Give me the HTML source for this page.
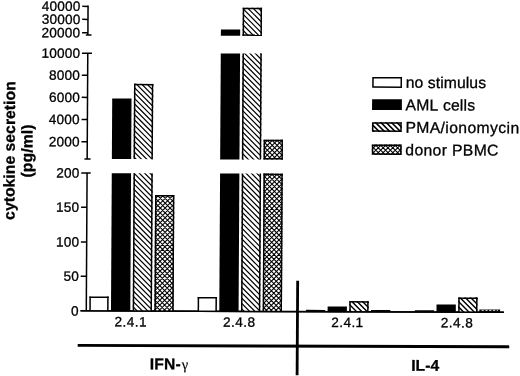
<!DOCTYPE html>
<html><head><meta charset="utf-8"><title>cytokine secretion</title>
<style>
html,body{margin:0;padding:0;background:#fff;}
svg{display:block;}
text{font-family:"Liberation Sans",sans-serif;fill:#000;font-kerning:none;stroke:#000;stroke-width:0.3px;}
</style></head>
<body>
<svg width="520" height="376" viewBox="0 0 520 376">
<defs><clipPath id="c1"><rect x="133.40" y="173.60" width="19.30" height="137.80"/></clipPath><clipPath id="c2"><rect x="133.40" y="84.20" width="19.30" height="75.30"/></clipPath><clipPath id="c3"><rect x="155.10" y="195.20" width="19.30" height="116.20"/></clipPath><clipPath id="c4"><rect x="241.70" y="173.60" width="19.30" height="137.80"/></clipPath><clipPath id="c5"><rect x="241.70" y="53.50" width="19.30" height="106.00"/></clipPath><clipPath id="c6"><rect x="241.70" y="7.70" width="19.30" height="28.20"/></clipPath><clipPath id="c7"><rect x="263.40" y="173.60" width="19.30" height="137.80"/></clipPath><clipPath id="c8"><rect x="263.40" y="139.80" width="19.30" height="19.70"/></clipPath><clipPath id="c9"><rect x="350.00" y="300.80" width="19.30" height="10.60"/></clipPath><clipPath id="c10"><rect x="458.90" y="296.90" width="19.30" height="14.50"/></clipPath><clipPath id="c11"><rect x="371.60" y="121.80" width="29.80" height="9.70"/></clipPath><clipPath id="c12"><rect x="371.60" y="144.20" width="29.80" height="10.30"/></clipPath></defs>
<rect width="520" height="376" fill="#fff"/>
<g transform="matrix(1 0.003 -0.0058 1 1.0904 -0.7800)">
<line x1="87.00" y1="5.90" x2="87.00" y2="35.60" stroke="#000" stroke-width="1.5" stroke-linecap="butt"/>
<line x1="81.20" y1="6.90" x2="87.00" y2="6.90" stroke="#000" stroke-width="1.5" stroke-linecap="butt"/>
<line x1="81.20" y1="19.90" x2="87.00" y2="19.90" stroke="#000" stroke-width="1.5" stroke-linecap="butt"/>
<line x1="81.20" y1="33.20" x2="87.00" y2="33.20" stroke="#000" stroke-width="1.5" stroke-linecap="butt"/>
<line x1="85.00" y1="35.60" x2="90.60" y2="35.60" stroke="#000" stroke-width="1.5" stroke-linecap="butt"/>
<line x1="87.00" y1="53.70" x2="87.00" y2="159.60" stroke="#000" stroke-width="1.5" stroke-linecap="butt"/>
<line x1="81.20" y1="75.80" x2="87.00" y2="75.80" stroke="#000" stroke-width="1.5" stroke-linecap="butt"/>
<line x1="81.20" y1="97.90" x2="87.00" y2="97.90" stroke="#000" stroke-width="1.5" stroke-linecap="butt"/>
<line x1="81.20" y1="120.10" x2="87.00" y2="120.10" stroke="#000" stroke-width="1.5" stroke-linecap="butt"/>
<line x1="81.20" y1="142.30" x2="87.00" y2="142.30" stroke="#000" stroke-width="1.5" stroke-linecap="butt"/>
<line x1="81.20" y1="53.70" x2="91.20" y2="53.70" stroke="#000" stroke-width="1.5" stroke-linecap="butt"/>
<line x1="84.30" y1="159.60" x2="90.40" y2="159.60" stroke="#000" stroke-width="1.5" stroke-linecap="butt"/>
<line x1="87.00" y1="173.60" x2="87.00" y2="311.40" stroke="#000" stroke-width="1.5" stroke-linecap="butt"/>
<line x1="81.20" y1="207.80" x2="87.00" y2="207.80" stroke="#000" stroke-width="1.5" stroke-linecap="butt"/>
<line x1="81.20" y1="242.50" x2="87.00" y2="242.50" stroke="#000" stroke-width="1.5" stroke-linecap="butt"/>
<line x1="81.20" y1="276.80" x2="87.00" y2="276.80" stroke="#000" stroke-width="1.5" stroke-linecap="butt"/>
<line x1="81.20" y1="173.60" x2="90.60" y2="173.60" stroke="#000" stroke-width="1.5" stroke-linecap="butt"/>
<line x1="81.20" y1="311.40" x2="504.60" y2="311.40" stroke="#000" stroke-width="1.5" stroke-linecap="butt"/>
<line x1="78.60" y1="345.95" x2="510.20" y2="345.95" stroke="#000" stroke-width="2.9" stroke-linecap="butt"/>
<line x1="298.20" y1="280.60" x2="298.20" y2="375.20" stroke="#000" stroke-width="2.8" stroke-linecap="butt"/>
<text x="79.5" y="11.40" text-anchor="end" font-size="13.6" letter-spacing="0.2">40000</text>
<text x="79.5" y="24.50" text-anchor="end" font-size="13.6" letter-spacing="0.2">30000</text>
<text x="79.5" y="37.80" text-anchor="end" font-size="13.6" letter-spacing="0.2">20000</text>
<text x="79.5" y="58.30" text-anchor="end" font-size="13.6" letter-spacing="0.2">10000</text>
<text x="79.5" y="80.40" text-anchor="end" font-size="13.6" letter-spacing="0.2">8000</text>
<text x="79.5" y="102.50" text-anchor="end" font-size="13.6" letter-spacing="0.2">6000</text>
<text x="79.5" y="124.70" text-anchor="end" font-size="13.6" letter-spacing="0.2">4000</text>
<text x="79.5" y="146.90" text-anchor="end" font-size="13.6" letter-spacing="0.2">2000</text>
<text x="79.5" y="178.20" text-anchor="end" font-size="13.6" letter-spacing="0.2">200</text>
<text x="79.5" y="212.40" text-anchor="end" font-size="13.6" letter-spacing="0.2">150</text>
<text x="79.5" y="247.10" text-anchor="end" font-size="13.6" letter-spacing="0.2">100</text>
<text x="79.5" y="281.40" text-anchor="end" font-size="13.6" letter-spacing="0.2">50</text>
<text x="79.5" y="316.00" text-anchor="end" font-size="13.6" letter-spacing="0.2">0</text>
<text x="131.6" y="326.8" text-anchor="middle" font-size="13.6" letter-spacing="0.45">2.4.1</text>
<text x="240.1" y="326.8" text-anchor="middle" font-size="13.6" letter-spacing="0.45">2.4.8</text>
<text x="348.2" y="326.8" text-anchor="middle" font-size="13.6" letter-spacing="0.45">2.4.1</text>
<text x="457.8" y="326.8" text-anchor="middle" font-size="13.6" letter-spacing="0.45">2.4.8</text>
<text x="150.7" y="369.5" font-size="15.6" font-weight="bold" letter-spacing="0.25">IFN-<tspan dx="0.9" font-family="'Liberation Serif', serif" font-weight="normal" font-size="14.5" stroke-width="0.15">γ</tspan></text>
<text x="412.2" y="370.2" font-size="15.6" font-weight="bold" letter-spacing="0.1">IL-4</text>
<text transform="translate(14.6 151.3) rotate(-90)" text-anchor="middle" font-size="15.7" font-weight="bold" letter-spacing="0.05">cytokine secretion</text>
<text transform="translate(32.2 151.7) rotate(-90)" text-anchor="middle" font-size="15.7" font-weight="bold" letter-spacing="0.12">(pg/ml)</text>
<rect x="90.00" y="296.90" width="19.3" height="14.50" fill="#fff"/>
<line x1="90.75" y1="296.90" x2="90.75" y2="311.40" stroke="#000" stroke-width="1.5" stroke-linecap="butt"/>
<line x1="108.55" y1="296.90" x2="108.55" y2="311.40" stroke="#000" stroke-width="1.5" stroke-linecap="butt"/>
<line x1="90.00" y1="297.65" x2="109.30" y2="297.65" stroke="#000" stroke-width="1.5" stroke-linecap="butt"/>
<rect x="111.70" y="173.60" width="19.3" height="137.80" fill="#000"/>
<rect x="111.70" y="98.90" width="19.3" height="60.60" fill="#000"/>
<rect x="133.40" y="173.60" width="19.30" height="137.80" fill="#fff"/>
<path clip-path="url(#c1)" d="M132.40,145.35l21.30,21.30M132.40,150.70l21.30,21.30M132.40,156.05l21.30,21.30M132.40,161.40l21.30,21.30M132.40,166.75l21.30,21.30M132.40,172.10l21.30,21.30M132.40,177.45l21.30,21.30M132.40,182.80l21.30,21.30M132.40,188.15l21.30,21.30M132.40,193.50l21.30,21.30M132.40,198.85l21.30,21.30M132.40,204.20l21.30,21.30M132.40,209.55l21.30,21.30M132.40,214.90l21.30,21.30M132.40,220.25l21.30,21.30M132.40,225.60l21.30,21.30M132.40,230.95l21.30,21.30M132.40,236.30l21.30,21.30M132.40,241.65l21.30,21.30M132.40,247.00l21.30,21.30M132.40,252.35l21.30,21.30M132.40,257.70l21.30,21.30M132.40,263.05l21.30,21.30M132.40,268.40l21.30,21.30M132.40,273.75l21.30,21.30M132.40,279.10l21.30,21.30M132.40,284.45l21.30,21.30M132.40,289.80l21.30,21.30M132.40,295.15l21.30,21.30M132.40,300.50l21.30,21.30M132.40,305.85l21.30,21.30M132.40,311.20l21.30,21.30M132.40,316.55l21.30,21.30" stroke="#000" stroke-width="1.2" fill="none"/>
<line x1="134.15" y1="173.60" x2="134.15" y2="311.40" stroke="#000" stroke-width="1.5" stroke-linecap="butt"/>
<line x1="151.95" y1="173.60" x2="151.95" y2="311.40" stroke="#000" stroke-width="1.5" stroke-linecap="butt"/>
<rect x="133.40" y="84.20" width="19.30" height="75.30" fill="#fff"/>
<path clip-path="url(#c2)" d="M132.40,54.40l21.30,21.30M132.40,59.75l21.30,21.30M132.40,65.10l21.30,21.30M132.40,70.45l21.30,21.30M132.40,75.80l21.30,21.30M132.40,81.15l21.30,21.30M132.40,86.50l21.30,21.30M132.40,91.85l21.30,21.30M132.40,97.20l21.30,21.30M132.40,102.55l21.30,21.30M132.40,107.90l21.30,21.30M132.40,113.25l21.30,21.30M132.40,118.60l21.30,21.30M132.40,123.95l21.30,21.30M132.40,129.30l21.30,21.30M132.40,134.65l21.30,21.30M132.40,140.00l21.30,21.30M132.40,145.35l21.30,21.30M132.40,150.70l21.30,21.30M132.40,156.05l21.30,21.30M132.40,161.40l21.30,21.30M132.40,166.75l21.30,21.30" stroke="#000" stroke-width="1.2" fill="none"/>
<line x1="134.15" y1="84.20" x2="134.15" y2="159.50" stroke="#000" stroke-width="1.5" stroke-linecap="butt"/>
<line x1="151.95" y1="84.20" x2="151.95" y2="159.50" stroke="#000" stroke-width="1.5" stroke-linecap="butt"/>
<line x1="133.40" y1="84.95" x2="152.70" y2="84.95" stroke="#000" stroke-width="1.5" stroke-linecap="butt"/>
<rect x="155.10" y="195.20" width="19.30" height="116.20" fill="#fff"/>
<path clip-path="url(#c3)" d="M154.10,168.05l21.30,21.30M154.10,172.90l21.30,21.30M154.10,177.75l21.30,21.30M154.10,182.60l21.30,21.30M154.10,187.45l21.30,21.30M154.10,192.30l21.30,21.30M154.10,197.15l21.30,21.30M154.10,202.00l21.30,21.30M154.10,206.85l21.30,21.30M154.10,211.70l21.30,21.30M154.10,216.55l21.30,21.30M154.10,221.40l21.30,21.30M154.10,226.25l21.30,21.30M154.10,231.10l21.30,21.30M154.10,235.95l21.30,21.30M154.10,240.80l21.30,21.30M154.10,245.65l21.30,21.30M154.10,250.50l21.30,21.30M154.10,255.35l21.30,21.30M154.10,260.20l21.30,21.30M154.10,265.05l21.30,21.30M154.10,269.90l21.30,21.30M154.10,274.75l21.30,21.30M154.10,279.60l21.30,21.30M154.10,284.45l21.30,21.30M154.10,289.30l21.30,21.30M154.10,294.15l21.30,21.30M154.10,299.00l21.30,21.30M154.10,303.85l21.30,21.30M154.10,308.70l21.30,21.30M154.10,313.55l21.30,21.30M154.10,318.40l21.30,21.30M154.10,190.40l21.30,-21.30M154.10,195.25l21.30,-21.30M154.10,200.10l21.30,-21.30M154.10,204.95l21.30,-21.30M154.10,209.80l21.30,-21.30M154.10,214.65l21.30,-21.30M154.10,219.50l21.30,-21.30M154.10,224.35l21.30,-21.30M154.10,229.20l21.30,-21.30M154.10,234.05l21.30,-21.30M154.10,238.90l21.30,-21.30M154.10,243.75l21.30,-21.30M154.10,248.60l21.30,-21.30M154.10,253.45l21.30,-21.30M154.10,258.30l21.30,-21.30M154.10,263.15l21.30,-21.30M154.10,268.00l21.30,-21.30M154.10,272.85l21.30,-21.30M154.10,277.70l21.30,-21.30M154.10,282.55l21.30,-21.30M154.10,287.40l21.30,-21.30M154.10,292.25l21.30,-21.30M154.10,297.10l21.30,-21.30M154.10,301.95l21.30,-21.30M154.10,306.80l21.30,-21.30M154.10,311.65l21.30,-21.30M154.10,316.50l21.30,-21.30M154.10,321.35l21.30,-21.30M154.10,326.20l21.30,-21.30M154.10,331.05l21.30,-21.30M154.10,335.90l21.30,-21.30M154.10,340.75l21.30,-21.30" stroke="#000" stroke-width="1.08" fill="none"/>
<line x1="155.85" y1="195.20" x2="155.85" y2="311.40" stroke="#000" stroke-width="1.5" stroke-linecap="butt"/>
<line x1="173.65" y1="195.20" x2="173.65" y2="311.40" stroke="#000" stroke-width="1.5" stroke-linecap="butt"/>
<line x1="155.10" y1="195.95" x2="174.40" y2="195.95" stroke="#000" stroke-width="1.5" stroke-linecap="butt"/>
<rect x="198.30" y="297.20" width="19.3" height="14.20" fill="#fff"/>
<line x1="199.05" y1="297.20" x2="199.05" y2="311.40" stroke="#000" stroke-width="1.5" stroke-linecap="butt"/>
<line x1="216.85" y1="297.20" x2="216.85" y2="311.40" stroke="#000" stroke-width="1.5" stroke-linecap="butt"/>
<line x1="198.30" y1="297.95" x2="217.60" y2="297.95" stroke="#000" stroke-width="1.5" stroke-linecap="butt"/>
<rect x="220.00" y="173.60" width="19.3" height="137.80" fill="#000"/>
<rect x="220.00" y="53.50" width="19.3" height="106.00" fill="#000"/>
<rect x="220.00" y="29.60" width="19.3" height="6.30" fill="#000"/>
<rect x="241.70" y="173.60" width="19.30" height="137.80" fill="#fff"/>
<path clip-path="url(#c4)" d="M240.70,146.65l21.30,21.30M240.70,152.00l21.30,21.30M240.70,157.35l21.30,21.30M240.70,162.70l21.30,21.30M240.70,168.05l21.30,21.30M240.70,173.40l21.30,21.30M240.70,178.75l21.30,21.30M240.70,184.10l21.30,21.30M240.70,189.45l21.30,21.30M240.70,194.80l21.30,21.30M240.70,200.15l21.30,21.30M240.70,205.50l21.30,21.30M240.70,210.85l21.30,21.30M240.70,216.20l21.30,21.30M240.70,221.55l21.30,21.30M240.70,226.90l21.30,21.30M240.70,232.25l21.30,21.30M240.70,237.60l21.30,21.30M240.70,242.95l21.30,21.30M240.70,248.30l21.30,21.30M240.70,253.65l21.30,21.30M240.70,259.00l21.30,21.30M240.70,264.35l21.30,21.30M240.70,269.70l21.30,21.30M240.70,275.05l21.30,21.30M240.70,280.40l21.30,21.30M240.70,285.75l21.30,21.30M240.70,291.10l21.30,21.30M240.70,296.45l21.30,21.30M240.70,301.80l21.30,21.30M240.70,307.15l21.30,21.30M240.70,312.50l21.30,21.30M240.70,317.85l21.30,21.30" stroke="#000" stroke-width="1.2" fill="none"/>
<line x1="242.45" y1="173.60" x2="242.45" y2="311.40" stroke="#000" stroke-width="1.5" stroke-linecap="butt"/>
<line x1="260.25" y1="173.60" x2="260.25" y2="311.40" stroke="#000" stroke-width="1.5" stroke-linecap="butt"/>
<rect x="241.70" y="53.50" width="19.30" height="106.00" fill="#fff"/>
<path clip-path="url(#c5)" d="M240.70,23.60l21.30,21.30M240.70,28.95l21.30,21.30M240.70,34.30l21.30,21.30M240.70,39.65l21.30,21.30M240.70,45.00l21.30,21.30M240.70,50.35l21.30,21.30M240.70,55.70l21.30,21.30M240.70,61.05l21.30,21.30M240.70,66.40l21.30,21.30M240.70,71.75l21.30,21.30M240.70,77.10l21.30,21.30M240.70,82.45l21.30,21.30M240.70,87.80l21.30,21.30M240.70,93.15l21.30,21.30M240.70,98.50l21.30,21.30M240.70,103.85l21.30,21.30M240.70,109.20l21.30,21.30M240.70,114.55l21.30,21.30M240.70,119.90l21.30,21.30M240.70,125.25l21.30,21.30M240.70,130.60l21.30,21.30M240.70,135.95l21.30,21.30M240.70,141.30l21.30,21.30M240.70,146.65l21.30,21.30M240.70,152.00l21.30,21.30M240.70,157.35l21.30,21.30M240.70,162.70l21.30,21.30M240.70,168.05l21.30,21.30" stroke="#000" stroke-width="1.2" fill="none"/>
<line x1="242.45" y1="53.50" x2="242.45" y2="159.50" stroke="#000" stroke-width="1.5" stroke-linecap="butt"/>
<line x1="260.25" y1="53.50" x2="260.25" y2="159.50" stroke="#000" stroke-width="1.5" stroke-linecap="butt"/>
<rect x="241.70" y="7.70" width="19.30" height="28.20" fill="#fff"/>
<path clip-path="url(#c6)" d="M240.70,-19.20l21.30,21.30M240.70,-13.85l21.30,21.30M240.70,-8.50l21.30,21.30M240.70,-3.15l21.30,21.30M240.70,2.20l21.30,21.30M240.70,7.55l21.30,21.30M240.70,12.90l21.30,21.30M240.70,18.25l21.30,21.30M240.70,23.60l21.30,21.30M240.70,28.95l21.30,21.30M240.70,34.30l21.30,21.30M240.70,39.65l21.30,21.30M240.70,45.00l21.30,21.30" stroke="#000" stroke-width="1.2" fill="none"/>
<line x1="242.45" y1="7.70" x2="242.45" y2="35.90" stroke="#000" stroke-width="1.5" stroke-linecap="butt"/>
<line x1="260.25" y1="7.70" x2="260.25" y2="35.90" stroke="#000" stroke-width="1.5" stroke-linecap="butt"/>
<line x1="241.70" y1="8.45" x2="261.00" y2="8.45" stroke="#000" stroke-width="1.5" stroke-linecap="butt"/>
<line x1="241.70" y1="35.15" x2="261.00" y2="35.15" stroke="#000" stroke-width="1.5" stroke-linecap="butt"/>
<rect x="263.40" y="173.60" width="19.30" height="137.80" fill="#fff"/>
<path clip-path="url(#c7)" d="M262.40,145.40l21.30,21.30M262.40,150.25l21.30,21.30M262.40,155.10l21.30,21.30M262.40,159.95l21.30,21.30M262.40,164.80l21.30,21.30M262.40,169.65l21.30,21.30M262.40,174.50l21.30,21.30M262.40,179.35l21.30,21.30M262.40,184.20l21.30,21.30M262.40,189.05l21.30,21.30M262.40,193.90l21.30,21.30M262.40,198.75l21.30,21.30M262.40,203.60l21.30,21.30M262.40,208.45l21.30,21.30M262.40,213.30l21.30,21.30M262.40,218.15l21.30,21.30M262.40,223.00l21.30,21.30M262.40,227.85l21.30,21.30M262.40,232.70l21.30,21.30M262.40,237.55l21.30,21.30M262.40,242.40l21.30,21.30M262.40,247.25l21.30,21.30M262.40,252.10l21.30,21.30M262.40,256.95l21.30,21.30M262.40,261.80l21.30,21.30M262.40,266.65l21.30,21.30M262.40,271.50l21.30,21.30M262.40,276.35l21.30,21.30M262.40,281.20l21.30,21.30M262.40,286.05l21.30,21.30M262.40,290.90l21.30,21.30M262.40,295.75l21.30,21.30M262.40,300.60l21.30,21.30M262.40,305.45l21.30,21.30M262.40,310.30l21.30,21.30M262.40,315.15l21.30,21.30M262.40,320.00l21.30,21.30M262.40,169.40l21.30,-21.30M262.40,174.25l21.30,-21.30M262.40,179.10l21.30,-21.30M262.40,183.95l21.30,-21.30M262.40,188.80l21.30,-21.30M262.40,193.65l21.30,-21.30M262.40,198.50l21.30,-21.30M262.40,203.35l21.30,-21.30M262.40,208.20l21.30,-21.30M262.40,213.05l21.30,-21.30M262.40,217.90l21.30,-21.30M262.40,222.75l21.30,-21.30M262.40,227.60l21.30,-21.30M262.40,232.45l21.30,-21.30M262.40,237.30l21.30,-21.30M262.40,242.15l21.30,-21.30M262.40,247.00l21.30,-21.30M262.40,251.85l21.30,-21.30M262.40,256.70l21.30,-21.30M262.40,261.55l21.30,-21.30M262.40,266.40l21.30,-21.30M262.40,271.25l21.30,-21.30M262.40,276.10l21.30,-21.30M262.40,280.95l21.30,-21.30M262.40,285.80l21.30,-21.30M262.40,290.65l21.30,-21.30M262.40,295.50l21.30,-21.30M262.40,300.35l21.30,-21.30M262.40,305.20l21.30,-21.30M262.40,310.05l21.30,-21.30M262.40,314.90l21.30,-21.30M262.40,319.75l21.30,-21.30M262.40,324.60l21.30,-21.30M262.40,329.45l21.30,-21.30M262.40,334.30l21.30,-21.30M262.40,339.15l21.30,-21.30" stroke="#000" stroke-width="1.08" fill="none"/>
<line x1="264.15" y1="173.60" x2="264.15" y2="311.40" stroke="#000" stroke-width="1.5" stroke-linecap="butt"/>
<line x1="281.95" y1="173.60" x2="281.95" y2="311.40" stroke="#000" stroke-width="1.5" stroke-linecap="butt"/>
<line x1="263.40" y1="174.35" x2="282.70" y2="174.35" stroke="#000" stroke-width="1.5" stroke-linecap="butt"/>
<rect x="263.40" y="139.80" width="19.30" height="19.70" fill="#fff"/>
<path clip-path="url(#c8)" d="M262.40,111.45l21.30,21.30M262.40,116.30l21.30,21.30M262.40,121.15l21.30,21.30M262.40,126.00l21.30,21.30M262.40,130.85l21.30,21.30M262.40,135.70l21.30,21.30M262.40,140.55l21.30,21.30M262.40,145.40l21.30,21.30M262.40,150.25l21.30,21.30M262.40,155.10l21.30,21.30M262.40,159.95l21.30,21.30M262.40,164.80l21.30,21.30M262.40,135.45l21.30,-21.30M262.40,140.30l21.30,-21.30M262.40,145.15l21.30,-21.30M262.40,150.00l21.30,-21.30M262.40,154.85l21.30,-21.30M262.40,159.70l21.30,-21.30M262.40,164.55l21.30,-21.30M262.40,169.40l21.30,-21.30M262.40,174.25l21.30,-21.30M262.40,179.10l21.30,-21.30M262.40,183.95l21.30,-21.30M262.40,188.80l21.30,-21.30" stroke="#000" stroke-width="1.08" fill="none"/>
<line x1="264.15" y1="139.80" x2="264.15" y2="159.50" stroke="#000" stroke-width="1.5" stroke-linecap="butt"/>
<line x1="281.95" y1="139.80" x2="281.95" y2="159.50" stroke="#000" stroke-width="1.5" stroke-linecap="butt"/>
<line x1="263.40" y1="140.55" x2="282.70" y2="140.55" stroke="#000" stroke-width="1.5" stroke-linecap="butt"/>
<line x1="263.40" y1="158.75" x2="282.70" y2="158.75" stroke="#000" stroke-width="1.5" stroke-linecap="butt"/>
<rect x="306.60" y="309.70" width="19.3" height="1.7" fill="#000"/>
<rect x="328.30" y="306.20" width="19.3" height="5.20" fill="#000"/>
<rect x="350.00" y="300.80" width="19.30" height="10.60" fill="#fff"/>
<path clip-path="url(#c9)" d="M349.00,271.00l21.30,21.30M349.00,276.35l21.30,21.30M349.00,281.70l21.30,21.30M349.00,287.05l21.30,21.30M349.00,292.40l21.30,21.30M349.00,297.75l21.30,21.30M349.00,303.10l21.30,21.30M349.00,308.45l21.30,21.30M349.00,313.80l21.30,21.30M349.00,319.15l21.30,21.30" stroke="#000" stroke-width="1.45" fill="none"/>
<line x1="350.75" y1="300.80" x2="350.75" y2="311.40" stroke="#000" stroke-width="1.5" stroke-linecap="butt"/>
<line x1="368.55" y1="300.80" x2="368.55" y2="311.40" stroke="#000" stroke-width="1.5" stroke-linecap="butt"/>
<line x1="350.00" y1="301.55" x2="369.30" y2="301.55" stroke="#000" stroke-width="1.5" stroke-linecap="butt"/>
<rect x="371.70" y="309.70" width="19.3" height="1.7" fill="#000"/>
<rect x="415.50" y="309.70" width="19.3" height="1.7" fill="#000"/>
<rect x="437.20" y="303.90" width="19.3" height="7.50" fill="#000"/>
<rect x="458.90" y="296.90" width="19.30" height="14.50" fill="#fff"/>
<path clip-path="url(#c10)" d="M457.90,267.55l21.30,21.30M457.90,272.90l21.30,21.30M457.90,278.25l21.30,21.30M457.90,283.60l21.30,21.30M457.90,288.95l21.30,21.30M457.90,294.30l21.30,21.30M457.90,299.65l21.30,21.30M457.90,305.00l21.30,21.30M457.90,310.35l21.30,21.30M457.90,315.70l21.30,21.30M457.90,321.05l21.30,21.30" stroke="#000" stroke-width="1.45" fill="none"/>
<line x1="459.65" y1="296.90" x2="459.65" y2="311.40" stroke="#000" stroke-width="1.5" stroke-linecap="butt"/>
<line x1="477.45" y1="296.90" x2="477.45" y2="311.40" stroke="#000" stroke-width="1.5" stroke-linecap="butt"/>
<line x1="458.90" y1="297.65" x2="478.20" y2="297.65" stroke="#000" stroke-width="1.5" stroke-linecap="butt"/>
<rect x="480.0" y="308.80" width="20.8" height="2.6" fill="#000"/>
<path d="M482.3,309.65 H498.6" stroke="#fff" stroke-width="0.9" stroke-dasharray="2.2 1.6"/>
<line x1="81.20" y1="311.40" x2="504.60" y2="311.40" stroke="#000" stroke-width="1.5" stroke-linecap="butt"/>
<rect x="372.35" y="77.45" width="28.3" height="9.3" fill="#fff" stroke="#000" stroke-width="1.5"/>
<text x="405.1" y="87.40" font-size="15.7" letter-spacing="0.1">no stimulus</text>
<rect x="371.6" y="98.90" width="29.8" height="10.8" fill="#000"/>
<text x="405.1" y="109.90" font-size="15.7" letter-spacing="0.18">AML cells</text>
<rect x="371.60" y="121.80" width="29.80" height="9.70" fill="#fff"/>
<path clip-path="url(#c11)" d="M370.60,85.50l31.80,31.80M370.60,90.85l31.80,31.80M370.60,96.20l31.80,31.80M370.60,101.55l31.80,31.80M370.60,106.90l31.80,31.80M370.60,112.25l31.80,31.80M370.60,117.60l31.80,31.80M370.60,122.95l31.80,31.80M370.60,128.30l31.80,31.80M370.60,133.65l31.80,31.80M370.60,139.00l31.80,31.80" stroke="#000" stroke-width="1.6" fill="none"/>
<rect x="372.35" y="122.55" width="28.3" height="8.2" fill="none" stroke="#000" stroke-width="1.5"/>
<text x="405.1" y="132.40" font-size="15.7" letter-spacing="0.4">PMA/ionomycin</text>
<rect x="371.60" y="144.20" width="29.80" height="10.30" fill="#fff"/>
<path clip-path="url(#c12)" d="M370.60,106.00l31.80,31.80M370.60,110.85l31.80,31.80M370.60,115.70l31.80,31.80M370.60,120.55l31.80,31.80M370.60,125.40l31.80,31.80M370.60,130.25l31.80,31.80M370.60,135.10l31.80,31.80M370.60,139.95l31.80,31.80M370.60,144.80l31.80,31.80M370.60,149.65l31.80,31.80M370.60,154.50l31.80,31.80M370.60,159.35l31.80,31.80M370.60,140.30l31.80,-31.80M370.60,145.15l31.80,-31.80M370.60,150.00l31.80,-31.80M370.60,154.85l31.80,-31.80M370.60,159.70l31.80,-31.80M370.60,164.55l31.80,-31.80M370.60,169.40l31.80,-31.80M370.60,174.25l31.80,-31.80M370.60,179.10l31.80,-31.80M370.60,183.95l31.80,-31.80M370.60,188.80l31.80,-31.80M370.60,193.65l31.80,-31.80" stroke="#000" stroke-width="1.08" fill="none"/>
<rect x="372.35" y="144.95" width="28.3" height="8.8" fill="none" stroke="#000" stroke-width="1.5"/>
<text x="405.1" y="154.90" font-size="15.7" letter-spacing="0.37">donor PBMC</text>
</g>
</svg>
</body></html>
